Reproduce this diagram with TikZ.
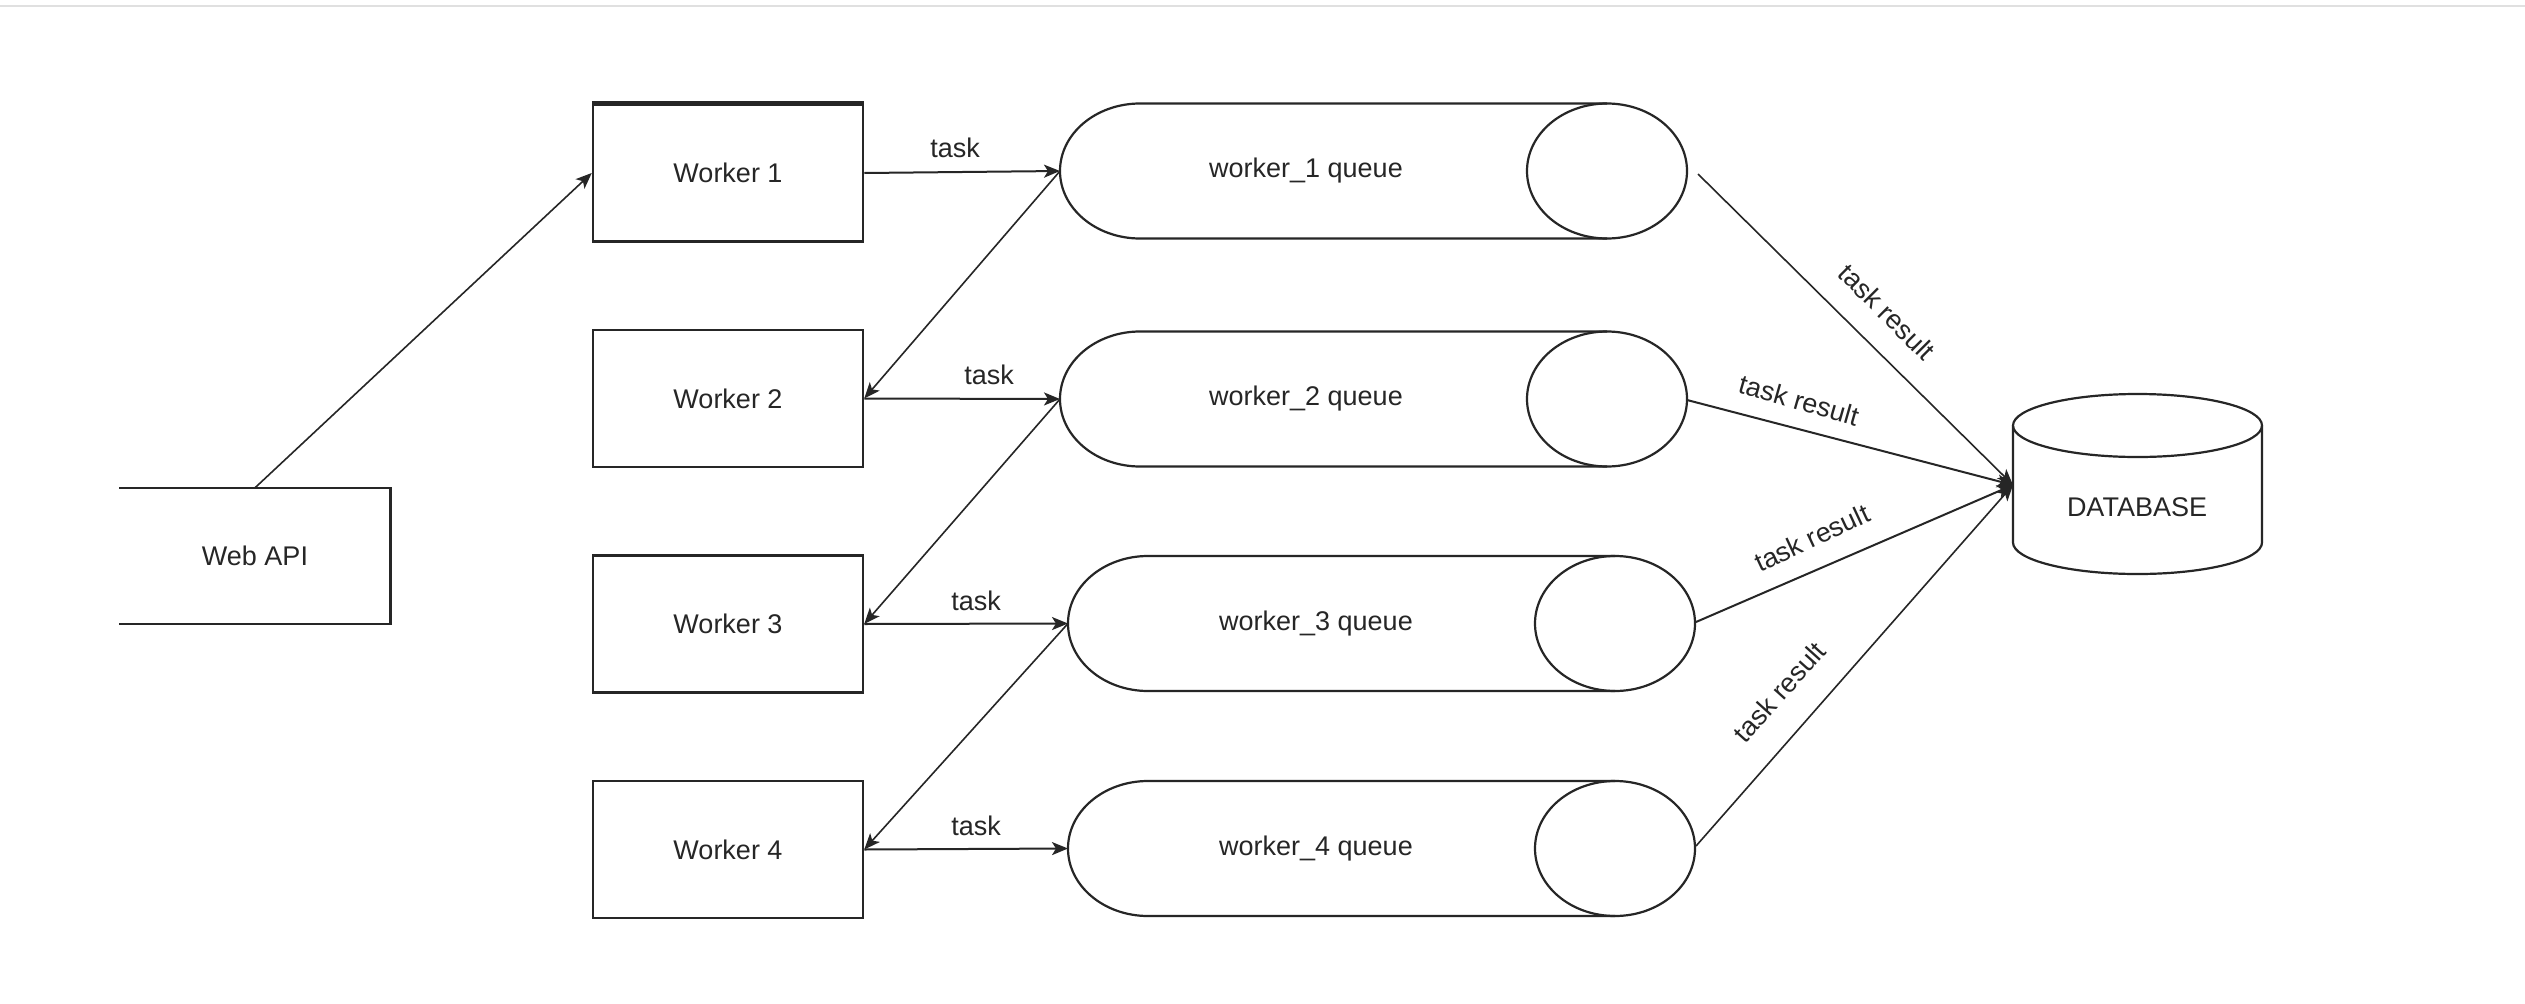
\documentclass[tikz,border=0pt]{standalone}
\usepackage{fontspec}
\setmainfont{Liberation Sans}
\usetikzlibrary{arrows.meta}
\begin{document}
\begin{tikzpicture}[x=1pt,y=-1pt,
  txt/.style={font=\fontsize{27}{32}\selectfont, text=black!85, inner sep=0pt},
  wbox/.style={txt, draw=black!85, line width=2.5pt, minimum width=270pt, minimum height=137pt},
  conn/.style={draw=black!85, line width=2pt, -{Stealth[length=16pt,width=13pt,inset=4pt]}},
  thin/.style={draw=black!85, line width=1.6pt, -{Stealth[length=16pt,width=13pt,inset=4pt]}},
  shp/.style={draw=black!85, line width=2.2pt}
]
\useasboundingbox (0,0) rectangle (2525,1004);
\fill[white] (0,0) rectangle (2525,1004);
\fill[black!12] (0,4.5) rectangle (2525,6.5);

% Web API (left side open)
\node[txt, minimum width=271pt, minimum height=136pt] (webapi) at (255,556) {Web API};
\draw[shp, line width=2.5pt] (webapi.north west) -- (webapi.north east) -- (webapi.south east) -- (webapi.south west);

% Workers
\node[wbox] (w1) at (728,173) {Worker 1};
\draw[black!85, line width=4pt] (w1.north west) -- (w1.north east);
\node[wbox] (w2) at (728,398.5) {Worker 2};
\node[wbox] (w3) at (728,624) {Worker 3};
\node[wbox] (w4) at (728,849.5) {Worker 4};

% Queues (horizontal cylinders)
\foreach \n/\l/\c in {1/1060/171, 2/1060/399, 3/1068/623.5, 4/1068/848.5}{
  \pgfmathsetmacro{\rc}{\l+547}
  \pgfmathsetmacro{\lc}{\l+80}
  \draw[shp] (\rc,\c-67.5) -- (\lc,\c-67.5) arc[start angle=-90,end angle=-270,x radius=80,y radius=67.5] -- (\rc,\c+67.5);
  \draw[shp] (\rc,\c) ellipse[x radius=80,y radius=67.5];
}
\node[txt] (q1) at (1306,171) {worker\_1 queue};
\node[txt] (q2) at (1306,399) {worker\_2 queue};
\node[txt] (q3) at (1316,623.5) {worker\_3 queue};
\node[txt] (q4) at (1316,848.5) {worker\_4 queue};
\coordinate (q1w) at (1060,171);
\coordinate (q2w) at (1060,399);
\coordinate (q3w) at (1068,623.5);
\coordinate (q4w) at (1068,848.5);
\coordinate (q1e) at (1698,174);
\coordinate (q2e) at (1687,400);
\coordinate (q3e) at (1696,622);
\coordinate (q4e) at (1696,846);

% Database
\draw[shp] (2013,425.5) -- (2013,542.5) arc[start angle=180,end angle=360,x radius=124.5,y radius=-31.5] -- (2262,425.5);
\draw[shp] (2137.5,425.5) ellipse[x radius=124.5,y radius=31.5];
\node[txt] (db) at (2137,507) {DATABASE};
\coordinate (dbw) at (2013,485);

% Connectors
\draw[conn, line width=1.6pt] (webapi.north) -- (w1.west);
\draw[conn] (w1.east) -- (q1w);
\draw[thin] (q1w) -- (w2.east);
\draw[conn] (w2.east) -- (q2w);
\draw[thin] (q2w) -- (w3.east);
\draw[conn] (w3.east) -- (q3w);
\draw[thin] (q3w) -- (w4.east);
\draw[conn] (w4.east) -- (q4w);

\draw[thin] (q1e) -- (dbw);
\draw[conn] (q2e) -- (dbw);
\draw[conn] (q3e) -- (dbw);
\draw[thin] (q4e) -- (dbw);

% Labels
\node[txt] (t1) at (955,148) {task};
\node[txt] (t2) at (989,375) {task};
\node[txt] (t3) at (976,601) {task};
\node[txt] (t4) at (976,826) {task};
\node[txt, rotate=-45] (r1) at (1887,312) {task result};
\node[txt, rotate=-16] (r2) at (1799,400) {task result};
\node[txt, rotate=25] (r3) at (1812,538) {task result};
\node[txt, rotate=48] (r4) at (1779,692) {task result};
\end{tikzpicture}
\end{document}
